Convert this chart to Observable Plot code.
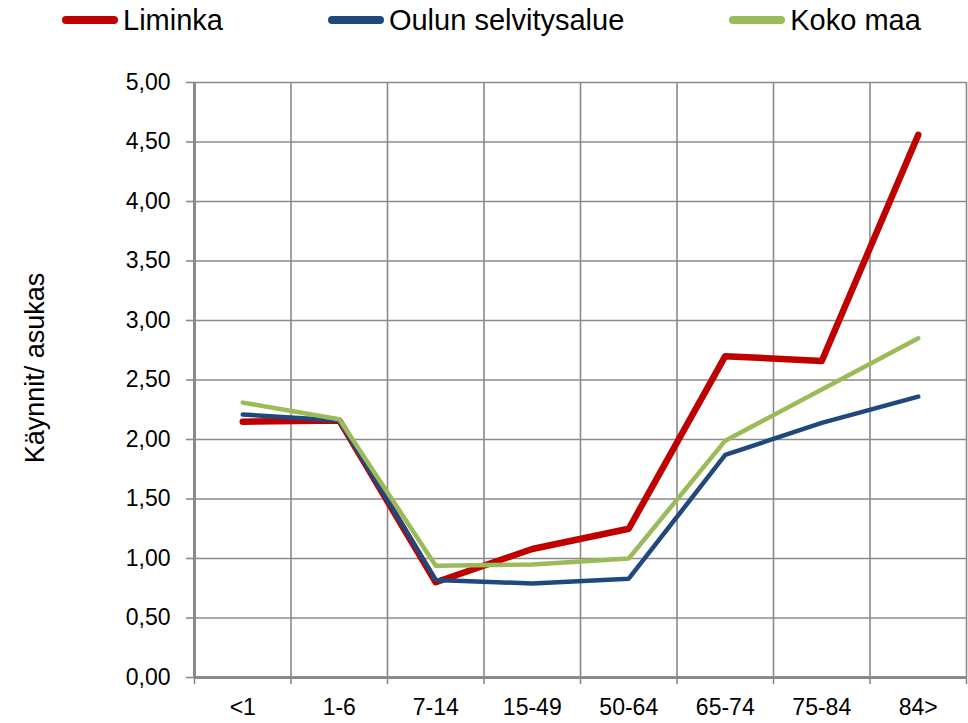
<!DOCTYPE html>
<html><head><meta charset="utf-8">
<script src="https://cdn.jsdelivr.net/npm/d3@7"></script>
<script src="https://cdn.jsdelivr.net/npm/@observablehq/plot@0.6"></script>
<style>
body{margin:0;background:#fff;font-family:"Liberation Sans",Arial,sans-serif}
#legend{height:40px;width:968px;display:flex;align-items:center;padding-left:62px;box-sizing:border-box;gap:105px}
.item{display:flex;align-items:center;font-size:29px;color:#000;line-height:1}
.sw{width:56px;height:8px;border-radius:4px;margin-right:5px}
</style></head><body>
<div id="legend"></div><div id="chart"></div>
<script>
const categories = ["<1","1-6","7-14","15-49","50-64","65-74","75-84","84>"];
const liminka = [2.15, 2.16, 0.80, 1.08, 1.25, 2.70, 2.66, 4.56];
const oulu    = [2.21, 2.16, 0.82, 0.79, 0.83, 1.87, 2.14, 2.36];
const koko    = [2.31, 2.17, 0.94, 0.95, 1.00, 1.99, 2.42, 2.85];
const seriesNames = ["Liminka","Oulun selvitysalue","Koko maa"];
const seriesColors = ["#C00000","#1F497D","#9BBB59"];
const yTicks = [0,0.5,1,1.5,2,2.5,3,3.5,4,4.5,5];
const yTitle = "Käynnit/ asukas";

const seriesValues = [liminka, oulu, koko];
const widths = [6.5, 4.5, 4.5];

const legend = document.getElementById("legend");
seriesNames.forEach((n,k)=>{
  const it = document.createElement("div"); it.className="item";
  const sw = document.createElement("div"); sw.className="sw"; sw.style.background=seriesColors[k];
  const tx = document.createElement("span"); tx.textContent=n;
  it.appendChild(sw); it.appendChild(tx); legend.appendChild(it);
});

const bounds = d3.range(categories.length+1).map(i=>i-0.5);
const grey = "#8a8a8a";
const fmt = d => d.toFixed(2).replace(".", ",");

const lineMarks = seriesValues.map((vals,k)=>Plot.line(vals.map((v,i)=>({i,v})), {
  x:"i", y:"v", stroke: seriesColors[k], strokeWidth: widths[k],
  strokeLinecap:"round", strokeLinejoin:"round"
}));

const chart = Plot.plot({
  width: 968, height: 683,
  marginTop: 42, marginBottom: 46, marginLeft: 194, marginRight: 2,
  x: {type:"linear", domain:[-0.5, categories.length-0.5], axis:null},
  y: {domain:[0,5], axis:null},
  style: {fontFamily:"Liberation Sans, Arial, sans-serif", fontSize:"23px", background:"#fff", overflow:"visible", color:"#000"},
  marks: [
    Plot.gridY(yTicks, {stroke:grey, strokeOpacity:1, strokeWidth:1.6}),
    Plot.gridX(bounds, {stroke:grey, strokeOpacity:1, strokeWidth:1.6}),
    Plot.axisY(yTicks, {tickSize:8, tickPadding:16, tickFormat:fmt, stroke:grey, strokeWidth:1.6, fontSize:23, label:null}),
    Plot.axisX(bounds, {tickSize:7, tickFormat:()=> "", stroke:grey, strokeWidth:1.6, label:null}),
    Plot.axisX(d3.range(categories.length), {tickSize:0, tickPadding:21, tickFormat:i=>categories[i], fontSize:23, label:null}),
    Plot.ruleX([-0.5], {stroke:grey, strokeWidth:3}),
    Plot.ruleY([0], {stroke:grey, strokeWidth:3}),
    ...lineMarks,
    Plot.text([yTitle], {frameAnchor:"left", dx:-159, dy:-12, rotate:-90, fontSize:27, fill:"#000", textAnchor:"middle", lineAnchor:"middle"})
  ]
});
document.getElementById("chart").appendChild(chart);
</script>
</body></html>
